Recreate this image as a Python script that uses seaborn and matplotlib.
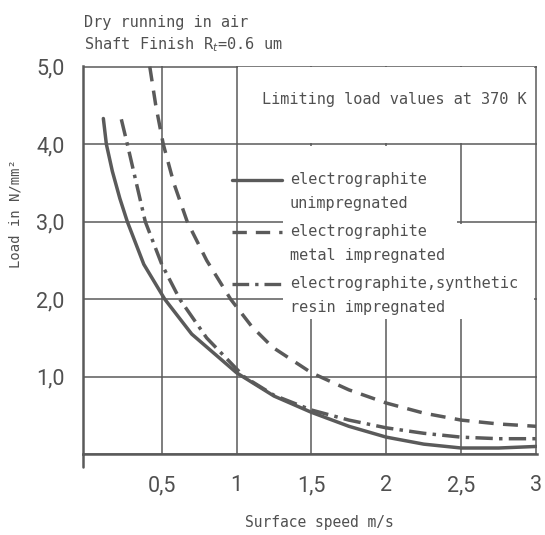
import numpy as np
import pandas as pd
import seaborn as sns
import matplotlib.pyplot as plt
from matplotlib.lines import Line2D
from matplotlib.patches import Rectangle
from matplotlib.ticker import MultipleLocator
from matplotlib.legend_handler import HandlerLine2D

# Values: surface speed (m/s) vs limiting load (N/mm2)
speed_unimp = [0.11, 0.13, 0.17, 0.22, 0.27, 0.38, 0.52, 0.7, 1.0, 1.25, 1.5, 1.75, 2.0, 2.25, 2.5, 2.75, 3.0]
load_unimp = [4.33, 4.0, 3.65, 3.3, 3.0, 2.45, 2.0, 1.55, 1.05, 0.75, 0.54, 0.36, 0.22, 0.13, 0.08, 0.08, 0.1]

speed_metal = [0.42, 0.46, 0.51, 0.58, 0.67, 0.8, 0.96, 1.1, 1.24, 1.5, 1.75, 2.0, 2.25, 2.5, 2.75, 3.0]
load_metal = [5.0, 4.5, 4.0, 3.5, 3.0, 2.5, 2.0, 1.65, 1.38, 1.05, 0.83, 0.66, 0.53, 0.44, 0.39, 0.36]

speed_resin = [0.23, 0.27, 0.33, 0.39, 0.5, 0.62, 0.8, 1.05, 1.25, 1.5, 1.75, 2.0, 2.25, 2.5, 2.75, 3.0]
load_resin = [4.32, 4.0, 3.5, 3.0, 2.45, 2.0, 1.5, 1.0, 0.76, 0.57, 0.44, 0.34, 0.27, 0.22, 0.2, 0.2]

materials = ['electrographite\nunimpregnated',
             'electrographite\nmetal impregnated',
             'electrographite,synthetic\nresin impregnated']

x_ticks = [0.5, 1, 1.5, 2, 2.5, 3]
x_labels = ['0,5', '1', '1,5', '2', '2,5', '3']
y_ticks = [0, 1, 2, 3, 4, 5]
y_labels = ['', '1,0', '2,0', '3,0', '4,0', '5,0']

df = pd.concat([
    pd.DataFrame({'speed': speed_unimp, 'load': load_unimp, 'material': materials[0]}),
    pd.DataFrame({'speed': speed_metal, 'load': load_metal, 'material': materials[1]}),
    pd.DataFrame({'speed': speed_resin, 'load': load_resin, 'material': materials[2]}),
])

sns.set_style('white')
plt.rcParams['font.family'] = ['Liberation Sans Narrow', 'Roboto', 'DejaVu Sans']

ink = '#5a5a5a'
txt = '#505050'
mono = 'DejaVu Sans Mono'
dash_styles = {materials[0]: '', materials[1]: (4.3, 2.7), materials[2]: (5, 1.8, 1, 1.8)}


# legend handle sits on the first line of a two-line label
class FirstLineHandler(HandlerLine2D):
    def create_artists(self, legend, orig_handle, xdescent, ydescent, width, height,
                       fontsize, trans):
        artists = super().create_artists(legend, orig_handle, xdescent, ydescent, width,
                                         height, fontsize, trans)
        for a in artists:
            a.set_ydata(np.asarray(a.get_ydata()) + 0.78 * fontsize)
        return artists


fig = plt.figure(figsize=(5.45, 5.35), dpi=100)
ax = fig.add_axes([0.152, 0.151, 0.833, 0.726])

sns.lineplot(data=df, x='speed', y='load', hue='material', style='material',
             hue_order=materials, style_order=materials,
             palette=[ink] * 3, dashes=dash_styles, linewidth=2.5,
             estimator=None, sort=True, legend=False, ax=ax)

ax.set_xlim(-0.027, 3.005)
ax.set_ylim(0, 5.01)
ax.set_xticks(x_ticks)
ax.set_xticklabels(x_labels)
ax.set_yticks(y_ticks)
ax.set_yticklabels(y_labels)
ax.xaxis.set_minor_locator(MultipleLocator(0.25))
ax.yaxis.set_minor_locator(MultipleLocator(0.5))
ax.set_xlabel('')
ax.set_ylabel('')

ax.set_axisbelow(True)
ax.grid(which='major', color=ink, linewidth=1.1)
for s in ['top', 'right']:
    ax.spines[s].set_visible(False)
for s in ['left', 'bottom']:
    ax.spines[s].set_color(ink)
    ax.spines[s].set_linewidth(1.8)

ax.tick_params(which='major', direction='out', length=12, width=1.6, color=ink,
               labelsize=15.5, labelcolor=txt)
ax.tick_params(axis='x', which='major', pad=3)
ax.tick_params(axis='y', which='major', pad=1)
ax.tick_params(which='minor', direction='out', length=6, width=1.4, color=ink)

# axis crossing: y axis runs a little below the x axis
ax.plot([-0.027, -0.027], [0, -0.17], color=ink, linewidth=1.8, clip_on=False)

# blanked parts of the grid behind the notes
bg = 'white'
ax.add_patch(Rectangle((1.012, 4.015), 1.976, 0.975, facecolor=bg, edgecolor='none', zorder=1))
ax.add_patch(Rectangle((1.31, 1.75), 1.16, 2.23, facecolor=bg, edgecolor='none', zorder=1))
ax.add_patch(Rectangle((2.47, 1.75), 0.515, 1.22, facecolor=bg, edgecolor='none', zorder=1))

ax.text(2.05, 4.57, 'Limiting load values at 370 K', ha='center', va='center',
        fontsize=11, family=mono, color=txt)

handles = [Line2D([], [], color=ink, linewidth=2.4, dashes=dash_styles[m]) if dash_styles[m]
           else Line2D([], [], color=ink, linewidth=2.4) for m in materials]
leg = ax.legend(handles, materials, loc='upper left', bbox_to_anchor=(0.328, 0.727),
                frameon=False, borderpad=0, borderaxespad=0, handlelength=3.3,
                handletextpad=0.5, labelspacing=0.85,
                prop={'family': mono, 'size': 11},
                handler_map={Line2D: FirstLineHandler()})
for t in leg.get_texts():
    t.set_color(txt)
    t.set_linespacing(1.75)

ax.text(0.52, -0.175, 'Surface speed m/s', transform=ax.transAxes, ha='center', va='center',
        family=mono, fontsize=10.5, color=txt)
ax.text(-0.148, 0.62, 'Load in N/mm²', transform=ax.transAxes, ha='center', va='center',
        rotation=90, family=mono, fontsize=10, color=txt)

fig.text(0.155, 0.95, 'Dry running in air', family=mono, fontsize=11, color=txt)
fig.text(0.155, 0.907, 'Shaft Finish R$_t$=0.6 um', family=mono, fontsize=11, color=txt)

fig.savefig('out.png', dpi=100, facecolor='white')
